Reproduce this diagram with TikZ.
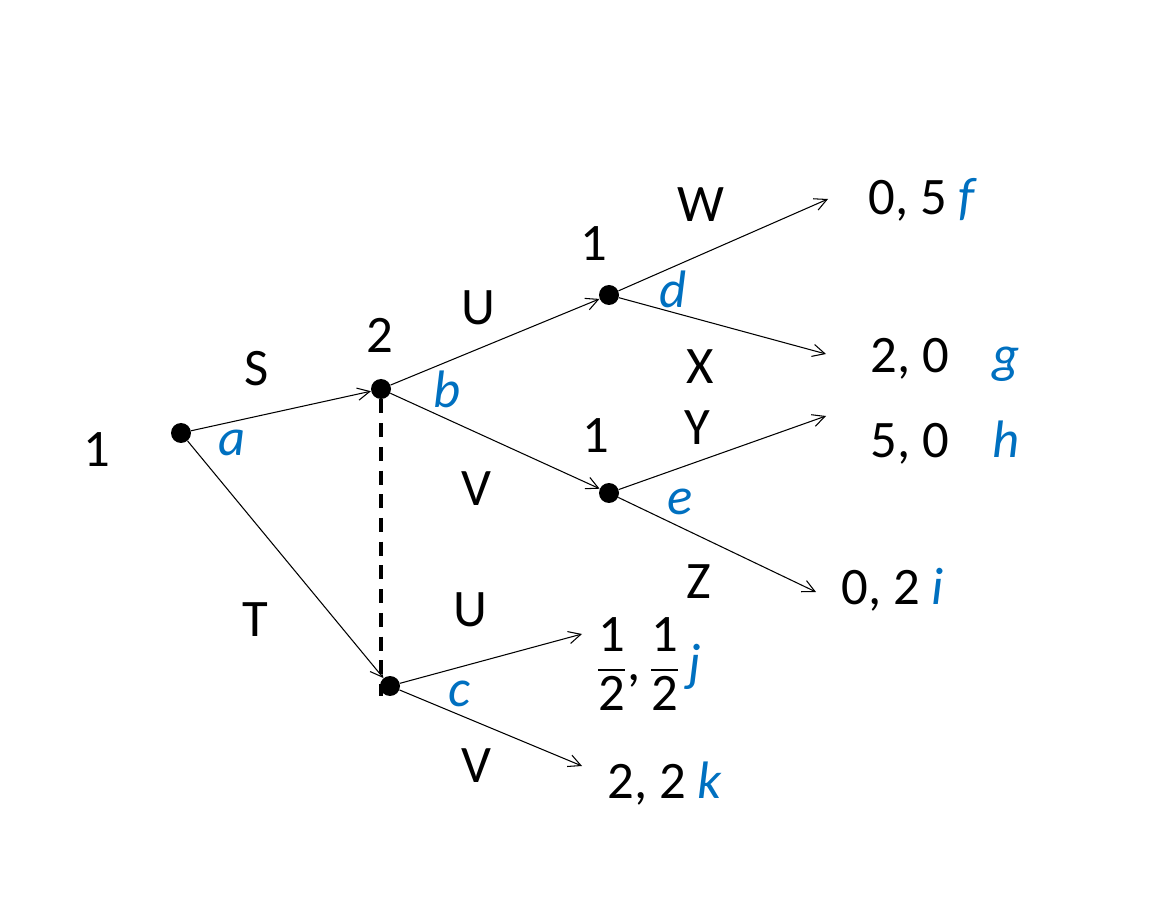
\documentclass[tikz,border=0pt]{standalone}
\usepackage{amsmath}
\usepackage{fontspec}
\setmainfont{Carlito}
\usepackage{tikz}
\usetikzlibrary{arrows.meta,positioning,calc}
\definecolor{gameBlue}{HTML}{0070C0}
\newcommand{\lbl}[1]{\textcolor{gameBlue}{\textit{#1}}}
\newcommand{\half}{\dfrac{\text{1}}{\text{2}}}

\begin{document}
\begin{tikzpicture}[x=0.02cm,y=-0.02cm,font=\fontsize{30}{36}\selectfont,
    dot/.style={circle,fill=black,inner sep=0pt,minimum size=0.4cm},
    txt/.style={inner sep=0pt},
    pay/.style={inner sep=0pt,anchor=west},
    arr/.style={-{Straight Barb[length=7pt,width=7pt]},line width=0.6pt},
    info/.style={dash pattern=on 8pt off 5.5pt,line width=2.2pt}]

  \useasboundingbox (0,0) rectangle (1160,918);

  % decision nodes
  \node[dot] (root) at (181,433) {};
  \node[dot] (p2up) at (381,389) {};
  \node[dot] (p2dn) at (390,686) {};
  \node[dot] (p1up) at (609,295) {};
  \node[dot] (p1dn) at (609,493) {};
  \coordinate (dashend) at (381,696);

  % free ends of terminal arrows
  \coordinate (tf) at (828,199);
  \coordinate (tg) at (826,354);
  \coordinate (th) at (826,416);
  \coordinate (ti) at (816,592);
  \coordinate (tj) at (582,634);
  \coordinate (tk) at (582,766);

  % payoffs
  \node[pay] (pf) at (868,200) {0, 5 \lbl{f}};
  \node[pay] (pg) at (870,360) {2, 0\hspace{0.6em} \lbl{g}};
  \node[pay] (ph) at (870,443) {5, 0\hspace{0.6em} \lbl{h}};
  \node[pay] (pi) at (841,590) {0, 2 \lbl{i}};
  \node[pay] (pj) at (596,664) {$\half$,\,$\half$\,\lbl{j}};
  \node[pay] (pk) at (607,784) {2, 2 \lbl{k}};

  % players
  \node[txt] (pl1) at (97,450) {1};
  \node[txt] (pl2) at (380,335) {2};
  \node[txt] (pl3) at (594,244) {1};
  \node[txt] (pl4) at (596,436) {1};

  % node names
  \node[txt] (na) at (232,443) {\lbl{a}};
  \node[txt] (nb) at (447,389) {\lbl{b}};
  \node[txt] (nc) at (459,694) {\lbl{c}};
  \node[txt] (nd) at (673,289) {\lbl{d}};
  \node[txt] (ne) at (680,502) {\lbl{e}};

  % actions
  \node[txt] (aS) at (257,369) {S};
  \node[txt] (aT) at (255,620) {T};
  \node[txt] (aU) at (478,308) {U};
  \node[txt] (aV) at (476,489) {V};
  \node[txt] (aW) at (701,205) {W};
  \node[txt] (aX) at (700,367) {X};
  \node[txt] (aY) at (697,428) {Y};
  \node[txt] (aZ) at (699,582) {Z};
  \node[txt] (aU2) at (470,610) {U};
  \node[txt] (aV2) at (476,766) {V};

  \draw[arr] (root) -- (p2up);
  \draw[arr] (root) -- (p2dn);
  \draw[arr] (p2up) -- (p1up);
  \draw[arr] (p2up) -- (p1dn);
  \draw[arr] (p1up) -- (tf);
  \draw[arr] (p1up) -- (tg);
  \draw[arr] (p1dn) -- (th);
  \draw[arr] (p1dn) -- (ti);
  \draw[arr] (p2dn) -- (tj);
  \draw[arr] (p2dn) -- (tk);
  \draw[info] (p2up) -- (dashend);
\end{tikzpicture}
\end{document}
